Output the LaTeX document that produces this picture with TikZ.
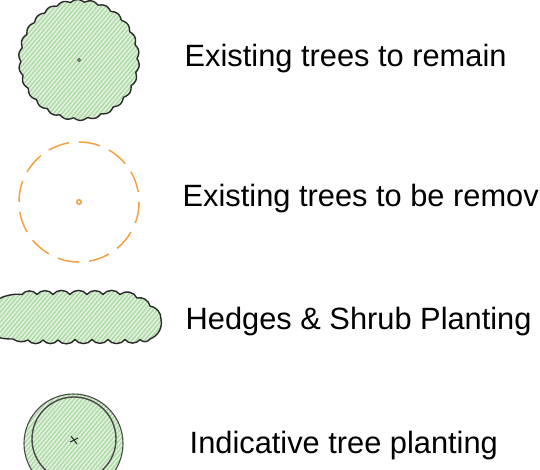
\documentclass[tikz,border=0pt]{standalone}
\usepackage{fontspec}
\setmainfont{Liberation Sans}
\definecolor{leaf}{HTML}{B3DCAB}
\definecolor{ink}{HTML}{2A2A2A}
\definecolor{amber}{HTML}{F5A040}
\tikzset{
  hatched/.style={fill=leaf, path picture={
    \foreach \i in {-420,-415.8,...,560}
      \draw[white,opacity=.72,line width=1.15pt] (\i,480) -- (\i+403,0);
  }},
  outline/.style={draw=ink,line width=1.4pt,line join=round},
  legendtext/.style={anchor=west,inner sep=0pt,font=\fontsize{30.8}{34}\selectfont,text=black},
}
\begin{document}
\begin{tikzpicture}[x=1pt,y=-1pt]
\useasboundingbox (0,0) rectangle (540,470);
\clip (0,0) rectangle (540,470);
% existing tree to remain
\draw[outline,hatched] plot[domain=0:359.5,samples=360]
  ({79+(58+2.4*abs(sin(13*\x+20)))*cos(\x)},{60+(58+2.4*abs(sin(13*\x+20)))*sin(\x)}) -- cycle;
\draw[ink!80,line width=.9pt] (79,60) circle (1.4);
\node[legendtext] (remain) at (184.5,59) {Existing trees to remain};
% tree to be removed
\draw[amber,line width=1.5pt,dash pattern=on 21.5pt off 9.9pt] (79,202) circle (60);
\draw[amber,line width=1.5pt] (79,202) circle (2.3);
\node[legendtext] (removed) at (182.5,199) {Existing trees to be remov};
% hedge
\draw[outline,hatched] (22,294.5)
  to[bend left=55] (37,294.5) to[bend left=55] (53,294.5) to[bend left=55] (70,294.5)
  to[bend left=55] (87,294.5) to[bend left=55] (103,294.5) to[bend left=55] (120,294.5)
  to[bend left=55] (137,298) to[bend left=45] (150,306) to[bend left=40] (161,319)
  to[bend left=40] (150,339) to[bend left=55] (140,339.5) to[bend left=55] (125,339.5)
  to[bend left=55] (108,339.5) to[bend left=55] (92,339.5) to[bend left=55] (75,339.5)
  to[bend left=55] (58,340) to[bend left=55] (43,340) to[bend left=55] (28,340)
  to[bend left=30] (13,339) to[bend left=10] (-6,336) -- (-6,305)
  to[bend left=25] (8,295.5) to[bend left=10] (22,294.5) -- cycle;
\node[legendtext] (hedge) at (185.5,322) {Hedges \& Shrub Planting};
% indicative tree
\draw[ink!85,line width=1.1pt,hatched] (73.5,443.5) circle (49.5);
\draw[ink!85,line width=1.4pt] (74,439) circle (42);
\draw[ink,line width=1pt] (71,436) -- (77,444);
\draw[ink,line width=1pt] (70,442) -- (78,438);
\node[legendtext] (planting) at (189.5,446) {Indicative tree planting};
\end{tikzpicture}
\end{document}
